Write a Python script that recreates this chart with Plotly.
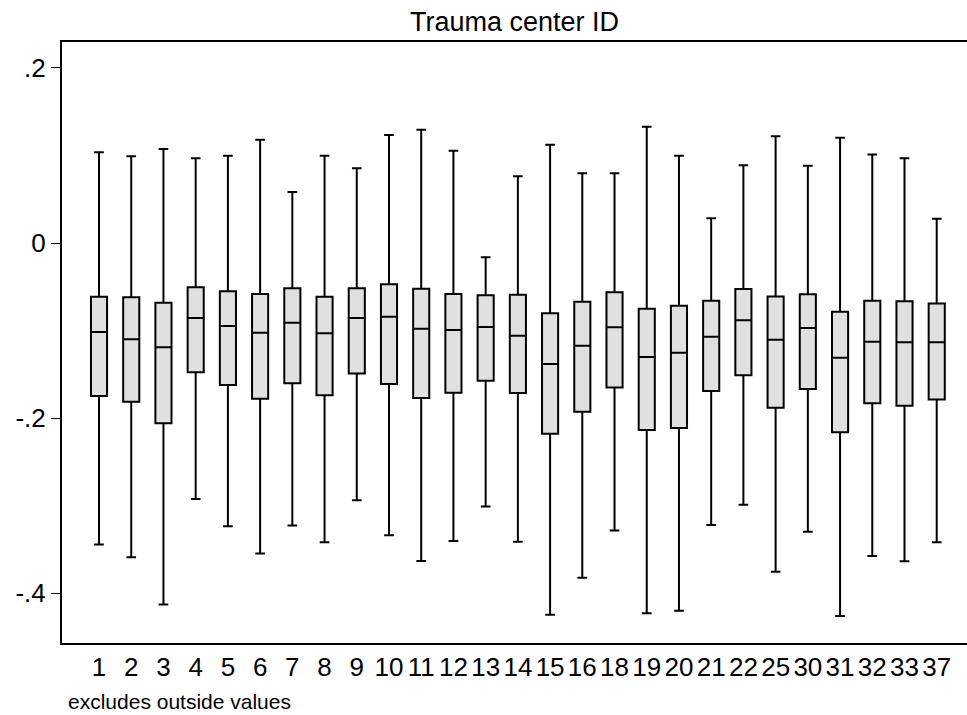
import plotly.graph_objects as go

centers = ["1", "2", "3", "4", "5", "6", "7", "8", "9", "10", "11", "12", "13", "14",
           "15", "16", "18", "19", "20", "21", "22", "25", "30", "31", "32", "33", "37"]
upper = [0.1037, 0.0991, 0.1074, 0.0968, 0.0998, 0.1181, 0.0583, 0.0998, 0.0853,
         0.1234, 0.1295, 0.1055, -0.0164, 0.0762, 0.1124, 0.0796, 0.0796, 0.1329, 0.0998,
         0.0282, 0.0888, 0.1219, 0.0884, 0.1204, 0.1010, 0.0968, 0.0278]
q3 = [-0.0613, -0.0621, -0.0682, -0.0507, -0.0552, -0.0583, -0.0518, -0.0613, -0.0518,
      -0.0472, -0.0522, -0.0583, -0.0598, -0.0590, -0.0804, -0.0670, -0.0563, -0.0750, -0.0716,
      -0.0659, -0.0526, -0.0610, -0.0587, -0.0785, -0.0659, -0.0667, -0.0690]
median = [-0.1017, -0.1101, -0.1192, -0.0857, -0.0949, -0.1025, -0.0910, -0.1032, -0.0857,
          -0.0842, -0.0979, -0.0994, -0.0960, -0.1059, -0.1383, -0.1173, -0.0964, -0.1303, -0.1253,
          -0.1070, -0.0884, -0.1105, -0.0971, -0.1310, -0.1128, -0.1135, -0.1135]
q1 = [-0.1749, -0.1813, -0.2061, -0.1478, -0.1623, -0.1779, -0.1604, -0.1741, -0.1490,
      -0.1611, -0.1771, -0.1711, -0.1573, -0.1714, -0.2179, -0.1928, -0.1650, -0.2137, -0.2114,
      -0.1691, -0.1512, -0.1882, -0.1669, -0.2164, -0.1832, -0.1859, -0.1787]
lower = [-0.3444, -0.3592, -0.4130, -0.2926, -0.3238, -0.3547, -0.3227, -0.3421, -0.2941,
         -0.3341, -0.3634, -0.3406, -0.3010, -0.3413, -0.4248, -0.3825, -0.3284, -0.4232, -0.4202,
         -0.3223, -0.2990, -0.3756, -0.3299, -0.4263, -0.3577, -0.3638, -0.3421]

ytick_vals = [-0.4, -0.2, 0, 0.2]
ytick_text = ["-.4", "-.2", "0", ".2"]

FONT = "Liberation Sans, Arial, sans-serif"

fig = go.Figure()
fig.add_trace(go.Box(
    x=centers,
    q1=q1, median=median, q3=q3,
    lowerfence=lower, upperfence=upper,
    width=0.5,
    whiskerwidth=0.6,
    fillcolor="#e0e0e0",
    line=dict(color="black", width=2),
    boxpoints=False,
    showlegend=False,
    hoverinfo="skip",
))

fig.update_layout(
    width=967, height=715,
    margin=dict(l=62, r=0, t=42, b=72),
    plot_bgcolor="white",
    paper_bgcolor="white",
    font=dict(family=FONT, color="black"),
    xaxis=dict(
        type="category",
        range=[-1.149, 26.94],
        showgrid=False, zeroline=False,
        showline=True, linecolor="black", linewidth=2, mirror=True,
        ticks="",
        tickfont=dict(size=26, family=FONT),
    ),
    yaxis=dict(
        range=[-0.4571, 0.2297],
        tickvals=ytick_vals, ticktext=ytick_text,
        showgrid=False, zeroline=False,
        showline=True, linecolor="black", linewidth=2,
        ticks="outside", ticklen=9, tickwidth=1, tickcolor="black",
        tickfont=dict(size=26, family=FONT),
    ),
    annotations=[
        dict(text="Trauma center ID", xref="paper", yref="paper",
             x=0.5, y=1.0333, xanchor="center", yanchor="middle",
             showarrow=False, font=dict(size=27, family=FONT, color="black")),
        dict(text="excludes outside values", xref="paper", yref="paper",
             x=0.0044, y=-0.098, xanchor="left", yanchor="middle",
             showarrow=False, font=dict(size=21, family=FONT, color="black")),
    ],
)

fig.write_html("out.html")
